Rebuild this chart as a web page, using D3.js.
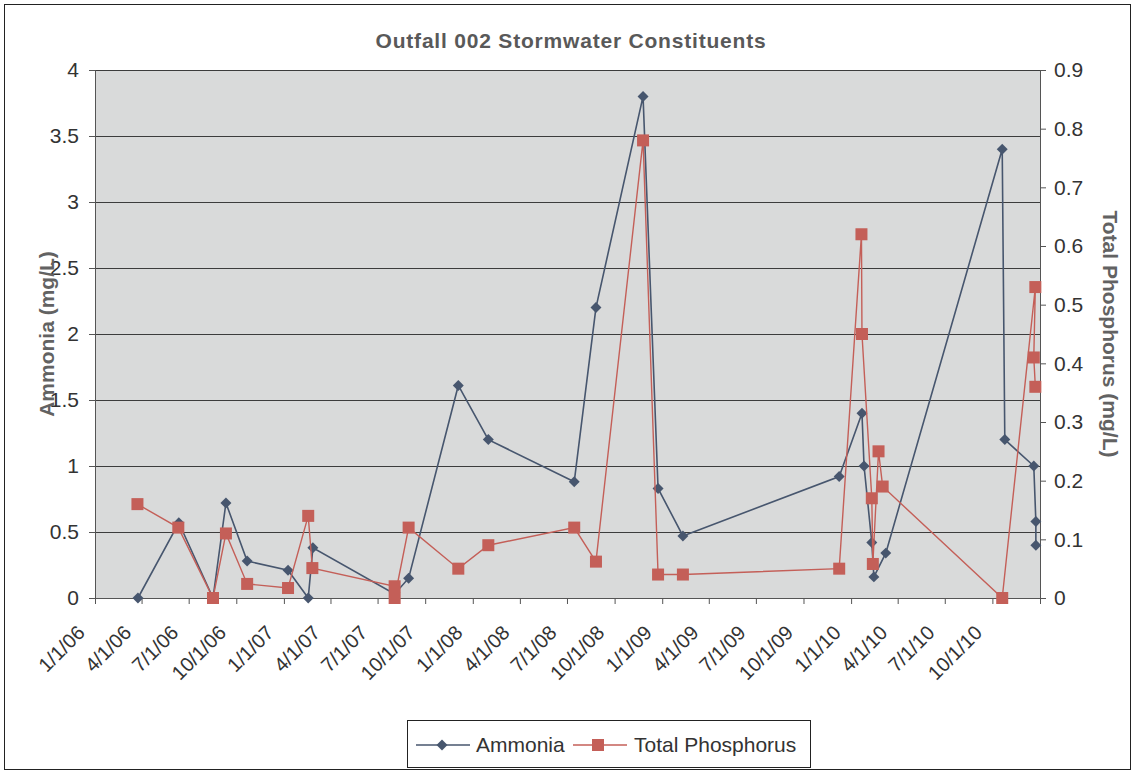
<!DOCTYPE html>
<html>
<head>
<meta charset="utf-8">
<script src="https://cdn.jsdelivr.net/npm/d3@7"></script>
<style>
  body { margin: 0; background: #fff; }
  text { font-family: "Liberation Sans", Arial, sans-serif; }
</style>
</head>
<body>
<div id="chart"></div>
<script>
// sample dates and values
var ammoniaDates = ["2006-03-25","2006-06-12","2006-08-17","2006-09-11","2006-10-22","2007-01-09",
  "2007-02-17","2007-02-26","2007-08-03","2007-08-30","2007-12-04","2008-01-31","2008-07-15",
  "2008-08-26","2008-11-25","2008-12-24","2009-02-10","2009-12-09","2010-01-22","2010-01-26",
  "2010-02-10","2010-02-14","2010-03-09","2010-10-20","2010-10-25","2010-12-20","2010-12-24","2010-12-24"];
var ammoniaValues = [0, 0.57, 0, 0.72, 0.28, 0.21, 0, 0.38, 0.03, 0.15, 1.61, 1.2, 0.88,
  2.2, 3.8, 0.83, 0.47, 0.92, 1.4, 1.0, 0.42, 0.16, 0.34, 3.4, 1.2, 1.0, 0.58, 0.4];

var phosDates = ["2006-03-24","2006-06-11","2006-08-17","2006-09-11","2006-10-22","2007-01-09",
  "2007-02-17","2007-02-25","2007-08-03","2007-08-03","2007-08-30","2007-12-04","2008-01-31",
  "2008-07-15","2008-08-26","2008-11-25","2008-12-24","2009-02-10","2009-12-09","2010-01-21",
  "2010-01-22","2010-02-10","2010-02-12","2010-02-23","2010-03-03","2010-10-20","2010-12-23",
  "2010-12-20","2010-12-23"];
var phosValues = [0.16, 0.12, 0, 0.11, 0.024, 0.017, 0.14, 0.051, 0.02, 0, 0.12, 0.05, 0.09,
  0.12, 0.062, 0.78, 0.04, 0.04, 0.05, 0.62, 0.45, 0.17, 0.058, 0.25, 0.19, 0, 0.53, 0.41, 0.36];

var leftTicks = [0, 0.5, 1, 1.5, 2, 2.5, 3, 3.5, 4];
var rightTicks = [0, 0.1, 0.2, 0.3, 0.4, 0.5, 0.6, 0.7, 0.8, 0.9];

var W = 1135, H = 774;
var margin = {top: 70, right: 95, bottom: 176, left: 95},
    width = W - margin.left - margin.right,
    height = H - margin.top - margin.bottom;

var parse = d3.timeParse("%Y-%m-%d");
var fmt = d3.timeFormat("%-m/%-d/%y");

var ammonia = ammoniaDates.map(function(d, i) { return {date: parse(d), value: ammoniaValues[i]}; });
var phos = phosDates.map(function(d, i) { return {date: parse(d), value: phosValues[i]}; });

var svg = d3.select("#chart").append("svg")
    .attr("width", W).attr("height", H);

// outer chart frame
svg.append("rect")
    .attr("x", 4.5).attr("y", 4.5)
    .attr("width", W - 9).attr("height", H - 9)
    .attr("fill", "#fff").attr("stroke", "#222").attr("stroke-width", 1);

var x = d3.scaleTime()
    .domain([parse("2006-01-01"), parse("2011-01-01")])
    .range([0, width]);
var yL = d3.scaleLinear().domain([0, 4]).range([height, 0]);
var yR = d3.scaleLinear().domain([0, 0.9]).range([height, 0]);

var g = svg.append("g")
    .attr("transform", "translate(" + margin.left + "," + margin.top + ")");

g.append("rect")
    .attr("width", width).attr("height", height)
    .attr("fill", "#d9dada");

// horizontal gridlines
g.selectAll(".grid").data(leftTicks.slice(1)).enter().append("line")
    .attr("x1", 0).attr("x2", width)
    .attr("y1", function(d) { return Math.round(yL(d)) + 0.5; })
    .attr("y2", function(d) { return Math.round(yL(d)) + 0.5; })
    .attr("stroke", "#3c3c3c").attr("stroke-width", 1);

var quarters = d3.timeMonth.every(3).range(parse("2006-01-01"), parse("2011-01-02"));

var xAxis = g.append("g")
    .attr("transform", "translate(0," + height + ")")
    .call(d3.axisBottom(x).tickValues(quarters).tickSize(6).tickFormat(""));
xAxis.select(".domain").attr("stroke", "#555");
xAxis.selectAll(".tick line").attr("stroke", "#555");

// rotated date labels, last one (1/1/11) is not shown
g.selectAll(".xlab").data(quarters.slice(0, -1)).enter().append("text")
    .attr("transform", function(d) { return "translate(" + (x(d) - 9) + "," + (height + 36) + ") rotate(-45)"; })
    .attr("text-anchor", "end")
    .attr("font-size", 20)
    .attr("fill", "#333")
    .text(fmt);

var yAxisL = g.append("g")
    .call(d3.axisLeft(yL).tickValues(leftTicks).tickSize(6).tickPadding(10).tickFormat(d3.format("")));
yAxisL.select(".domain").attr("stroke", "#555");
yAxisL.selectAll(".tick line").attr("stroke", "#555");
yAxisL.selectAll("text").attr("font-size", 21).attr("fill", "#333")
    .style("font-family", "'Liberation Sans', Arial, sans-serif");

var yAxisR = g.append("g")
    .attr("transform", "translate(" + width + ",0)")
    .call(d3.axisRight(yR).tickValues(rightTicks).tickSize(6).tickPadding(8).tickFormat(d3.format("")));
yAxisR.select(".domain").attr("stroke", "#555");
yAxisR.selectAll(".tick line").attr("stroke", "#555");
yAxisR.selectAll("text").attr("font-size", 21).attr("fill", "#333")
    .style("font-family", "'Liberation Sans', Arial, sans-serif");

var ammColor = "#47566e", phosColor = "#c45f58";

var lineA = d3.line().x(function(d) { return x(d.date); }).y(function(d) { return yL(d.value); });
var lineP = d3.line().x(function(d) { return x(d.date); }).y(function(d) { return yR(d.value); });

g.append("path").datum(ammonia)
    .attr("d", lineA).attr("fill", "none")
    .attr("stroke", ammColor).attr("stroke-width", 1.6);

g.selectAll(".amm").data(ammonia).enter().append("path")
    .attr("d", d3.symbol().type(d3.symbolSquare).size(60))
    .attr("transform", function(d) { return "translate(" + x(d.date) + "," + yL(d.value) + ") rotate(45)"; })
    .attr("fill", ammColor);

g.append("path").datum(phos)
    .attr("d", lineP).attr("fill", "none")
    .attr("stroke", phosColor).attr("stroke-width", 1.4);

g.selectAll(".phos").data(phos).enter().append("rect")
    .attr("x", function(d) { return x(d.date) - 6; })
    .attr("y", function(d) { return yR(d.value) - 6; })
    .attr("width", 12).attr("height", 12)
    .attr("fill", phosColor);

// titles
svg.append("text")
    .attr("x", 571).attr("y", 48)
    .attr("text-anchor", "middle")
    .attr("font-size", 21).attr("font-weight", "bold")
    .attr("letter-spacing", 0.8)
    .attr("fill", "#595959")
    .text("Outfall 002 Stormwater Constituents");

svg.append("text")
    .attr("transform", "translate(54," + (margin.top + height / 2) + ") rotate(-90)")
    .attr("text-anchor", "middle")
    .attr("font-size", 21).attr("font-weight", "bold")
    .attr("fill", "#626262")
    .text("Ammonia (mg/L)");

svg.append("text")
    .attr("transform", "translate(1103," + (margin.top + height / 2) + ") rotate(90)")
    .attr("text-anchor", "middle")
    .attr("font-size", 21).attr("font-weight", "bold")
    .attr("fill", "#626262")
    .text("Total Phosphorus (mg/L)");

// legend
var leg = svg.append("g").attr("transform", "translate(407,720)");
leg.append("rect")
    .attr("x", 0.5).attr("y", 0.5).attr("width", 403).attr("height", 47)
    .attr("fill", "#fff").attr("stroke", "#222");

leg.append("line").attr("x1", 9).attr("x2", 63).attr("y1", 25).attr("y2", 25)
    .attr("stroke", ammColor).attr("stroke-width", 1.6);
leg.append("path")
    .attr("d", d3.symbol().type(d3.symbolSquare).size(60))
    .attr("transform", "translate(35,25) rotate(45)")
    .attr("fill", ammColor);
leg.append("text").attr("x", 69).attr("y", 32)
    .attr("font-size", 21).attr("fill", "#333").text("Ammonia");

leg.append("line").attr("x1", 166).attr("x2", 220).attr("y1", 25).attr("y2", 25)
    .attr("stroke", phosColor).attr("stroke-width", 1.4);
leg.append("rect").attr("x", 185).attr("y", 19).attr("width", 12).attr("height", 12)
    .attr("fill", phosColor);
leg.append("text").attr("x", 227).attr("y", 32)
    .attr("font-size", 21).attr("fill", "#333").text("Total Phosphorus");
</script>
</body>
</html>
